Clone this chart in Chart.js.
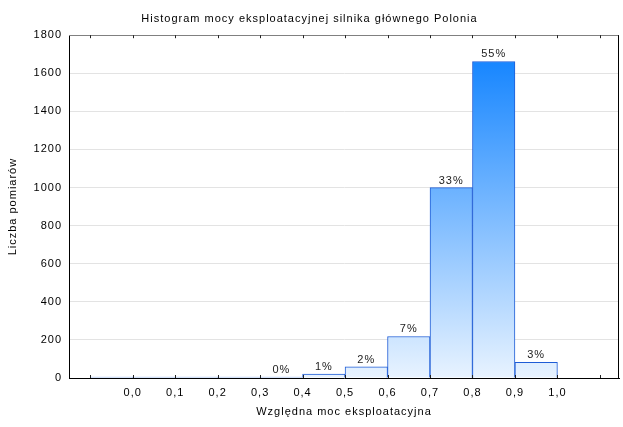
<!DOCTYPE html>
<html><head><meta charset="utf-8">
<script src="https://cdn.jsdelivr.net/npm/chart.js@4"></script>
<style>html,body{margin:0;padding:0;background:#fff}#wrap{width:623px;height:427px}</style>
</head><body><div id="wrap"><canvas id="c" width="623" height="427"></canvas></div>
<script>
// Histogram bins (left edge of each 0.1-wide bin) and counts
const binLeft = [-0.1, 0.0, 0.1, 0.2, 0.3, 0.4, 0.5, 0.6, 0.7, 0.8, 0.9];
const binWidth = 0.1;
const counts = [0, 0, 0, 0, 1, 20, 58, 218, 1000, 1662, 82];
const xTickLabels = ['0,0','0,1','0,2','0,3','0,4','0,5','0,6','0,7','0,8','0,9','1,0'];
const yMin = 0, yMax = 1800, yStep = 200;
const titleText = 'Histogram mocy eksploatacyjnej silnika głównego Polonia';
const xTitle = 'Względna moc eksploatacyjna';
const yTitle = 'Liczba pomiarów';

const total = counts.reduce((a, b) => a + b, 0);
const FONT = {family: '"Liberation Sans", Arial, sans-serif', size: 11, weight: 'normal'};

let gradCache = null;
function barFill(ctx) {
  const chart = ctx.chart;
  if (!chart.chartArea || !chart.scales.y) return '#8cc4ff';
  const ys = chart.scales.y;
  const y0 = ys.getPixelForValue(yMin), y1 = ys.getPixelForValue(yMax);
  const key = y0 + ':' + y1;
  if (gradCache && gradCache.key === key) return gradCache.g;
  const g = chart.ctx.createLinearGradient(0, y0, 0, y1);
  g.addColorStop(0, '#e8f3ff');
  g.addColorStop(1, '#067dff');
  gradCache = {key, g};
  return g;
}

const spacingPlugin = {
  id: 'spacing',
  beforeUpdate(chart) { chart.ctx.letterSpacing = '1px'; },
  beforeLayout(chart) { chart.ctx.letterSpacing = '1px'; },
  beforeDraw(chart) { chart.ctx.letterSpacing = '1px'; }
};

const framePlugin = {
  id: 'frame',
  afterDatasetsDraw(chart) {
    const c = chart.ctx;
    const meta = chart.getDatasetMeta(0);
    c.save();
    c.letterSpacing = '1px';
    c.font = '11px "Liberation Sans", Arial, sans-serif';
    c.fillStyle = '#222';
    c.textAlign = 'center';
    c.textBaseline = 'alphabetic';
    meta.data.forEach((bar, i) => {
      if (counts[i] > 0) {
        const pct = Math.round(counts[i] / total * 100) + '%';
        c.fillText(pct, bar.x, bar.y - 4);
      }
    });
    c.restore();
  },
  afterDraw(chart) {
    const c = chart.ctx, a = chart.chartArea;
    const xs = chart.scales.x;
    c.save();
    c.lineWidth = 1;
    c.strokeStyle = '#808080';
    c.beginPath();
    c.moveTo(a.left, Math.round(a.top) + 0.5);
    c.lineTo(a.right, Math.round(a.top) + 0.5);
    c.stroke();
    c.strokeStyle = '#000';
    c.beginPath();
    c.moveTo(Math.round(a.right) - 0.5, a.top);
    c.lineTo(Math.round(a.right) - 0.5, a.bottom);
    c.stroke();
    c.strokeStyle = '#222';
    xs.ticks.forEach(t => {
      const px = Math.round(xs.getPixelForValue(t.value)) + 0.5;
      c.beginPath();
      c.moveTo(px, a.bottom);
      c.lineTo(px, a.bottom - 3);
      c.moveTo(px, a.top);
      c.lineTo(px, a.top + 3);
      c.stroke();
    });
    c.restore();
  }
};

new Chart(document.getElementById('c').getContext('2d'), {
  type: 'bar',
  data: {
    datasets: [{
      data: binLeft.map((l, i) => ({x: l + binWidth / 2, y: counts[i]})),
      backgroundColor: barFill,
      borderColor: '#1e5cd6',
      borderWidth: 1,
      borderSkipped: 'start',
      minBarLength: 1,
      barPercentage: 1,
      categoryPercentage: 1
    }]
  },
  options: {
    responsive: false,
    animation: false,
    devicePixelRatio: 1,
    layout: {padding: {left: 0, right: 4, top: 0, bottom: 0}},
    plugins: {
      legend: {display: false},
      tooltip: {enabled: false},
      title: {display: true, text: titleText, font: FONT, color: '#000', padding: {top: 12, bottom: 10}}
    },
    scales: {
      x: {
        type: 'linear',
        min: -0.15,
        max: 1.145,
        offset: false,
        grid: {display: false, drawTicks: false, tickLength: 0},
        border: {display: true, color: '#000', width: 1},
        ticks: {
          stepSize: 0.1,
          includeBounds: false,
          autoSkip: false,
          maxRotation: 0,
          padding: 8,
          font: FONT,
          color: '#000',
          callback: (v) => {
            const idx = Math.round(v * 10);
            return (idx >= 0 && idx < xTickLabels.length) ? xTickLabels[idx] : '';
          }
        },
        title: {display: true, text: xTitle, font: FONT, color: '#000', padding: {top: 0, bottom: 8}},
        afterFit: (s) => { s.height = 49; }
      },
      y: {
        min: yMin,
        max: yMax,
        grid: {color: '#e3e3e3', drawTicks: false},
        border: {display: true, color: '#000', width: 1},
        ticks: {stepSize: yStep, padding: 7, font: FONT, color: '#000', callback: (v) => String(v)},
        title: {display: true, text: yTitle, font: FONT, color: '#000', padding: {top: 6, bottom: 0}},
        afterFit: (s) => { s.width = 69; }
      }
    }
  },
  plugins: [spacingPlugin, framePlugin]
});
</script>
</body></html>
